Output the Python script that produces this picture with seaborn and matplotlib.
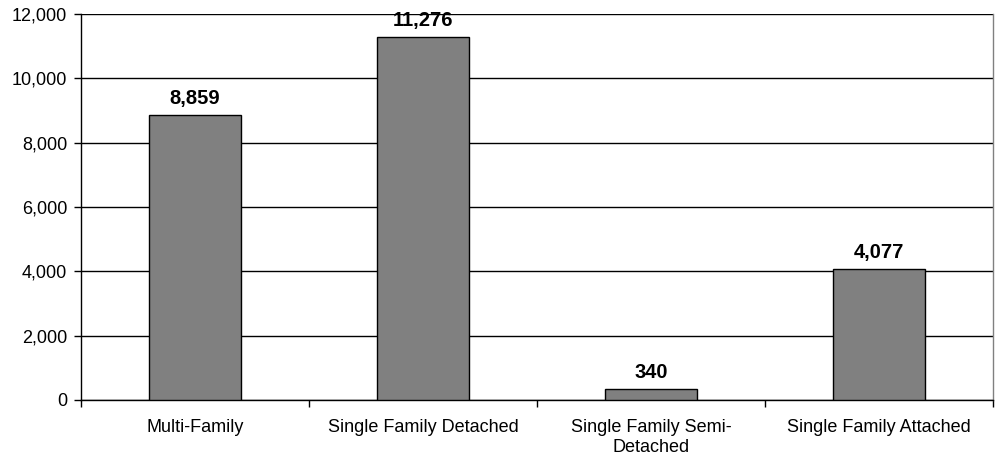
import matplotlib
matplotlib.use("Agg")
import matplotlib.pyplot as plt
import seaborn as sns
import numpy as np
from matplotlib.ticker import FuncFormatter, FixedLocator

categories = ["Multi-Family", "Single Family Detached", "Single Family Semi-\nDetached", "Single Family Attached"]
values = [8859, 11276, 340, 4077]
y_ticks = [0, 2000, 4000, 6000, 8000, 10000, 12000]

sns.set_style("white")
plt.rcParams["font.family"] = ["Liberation Sans", "DejaVu Sans"]
plt.rcParams["text.color"] = "black"
plt.rcParams["xtick.color"] = "black"
plt.rcParams["ytick.color"] = "black"

fig = plt.figure(figsize=(9.96, 4.57), dpi=100)
ax = fig.add_axes([81 / 996, 1 - 400 / 457, 912 / 996, 386 / 457])

sns.barplot(x=categories, y=values, color="#808080", edgecolor="black",
            linewidth=1.0, width=0.4, saturation=1, ax=ax, zorder=3)

ax.set_ylim(0, 12000)
ax.set_xlim(-0.5, len(categories) - 0.5)
ax.set_yticks(y_ticks)
ax.yaxis.set_major_formatter(FuncFormatter(lambda v, p: f"{int(v):,}"))
ax.yaxis.grid(True, color="black", linewidth=1.0, zorder=0)
ax.set_axisbelow(True)

# category labels centered, tick marks at category boundaries
ax.set_xticks(range(len(categories)))
ax.set_xticklabels(categories, fontsize=13, color="black", linespacing=1.2)
ax.tick_params(axis="x", which="major", length=0, pad=14)
ax.xaxis.set_minor_locator(FixedLocator(np.arange(-0.5, len(categories), 1.0)))
ax.tick_params(axis="x", which="minor", length=5, width=1, color="black", bottom=True)
ax.tick_params(axis="y", length=5, width=1, color="black", left=True,
               labelsize=13, labelcolor="black", pad=5)

for s in ["left", "bottom"]:
    ax.spines[s].set_color("black")
    ax.spines[s].set_linewidth(1.0)
ax.spines["top"].set_visible(False)
ax.spines["right"].set_color("#808080")
ax.spines["right"].set_linewidth(1.0)

for i, v in enumerate(values):
    ax.annotate(f"{v:,}", (i, v), xytext=(0, 5), textcoords="offset points",
                ha="center", va="bottom", fontsize=14.5, fontweight="bold",
                color="black")

ax.set_xlabel("")
ax.set_ylabel("")
fig.savefig("out.png", dpi=100)
